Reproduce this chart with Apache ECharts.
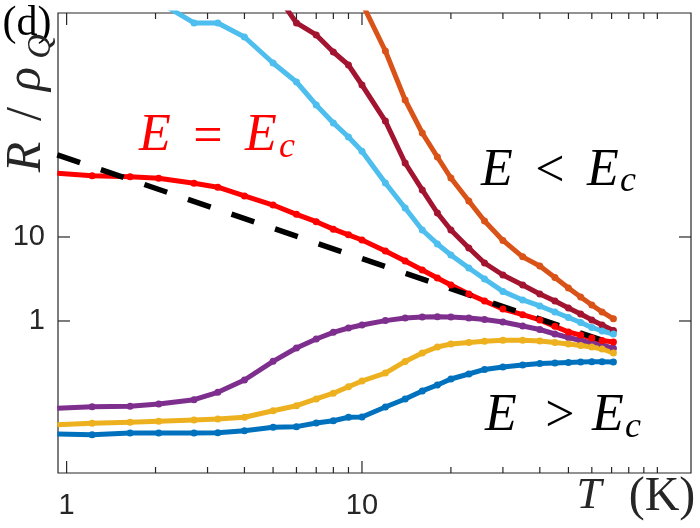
<!DOCTYPE html>
<html>
<head>
<meta charset="utf-8">
<script src="https://cdn.jsdelivr.net/npm/echarts@6.0.0/dist/echarts.min.js"></script>
<style>
  html, body { margin: 0; padding: 0; background: #fff; }
  #container { width: 700px; height: 528px; }
</style>
</head>
<body>
<div id="container"></div>
<script>
// temperature grid (K), shared by every curve
var temps = [0.93, 1.22, 1.64, 2.05, 2.7, 3.25, 4, 5, 6, 7, 8, 9, 10, 12, 14, 16, 18, 20, 23, 26, 30, 35, 40, 45, 50, 55, 60, 65, 71];

// R / rho_Q for each field, null where the curve is off the top of the chart
var orangeR = [null, null, null, null, null, null, null, null, null, null, null, null, 6100, 1637, 428, 173, 89.6, 50.4, 26.8, 15.5, 9.1, 5.8, 4.52, 3.3, 2.47, 1.93, 1.55, 1.28, 1.06];
var maroonR = [null, null, null, null, null, null, null, 8900, 3530, 2540, 1593, 1116, 645, 240, 76, 36.3, 19.3, 12.1, 7.39, 4.9, 3.53, 2.68, 2.10, 1.73, 1.43, 1.21, 1.03, 0.896, 0.771];
var skyR = [null, null, null, 6300, 3530, 3530, 2404, 1178, 700, 373, 228, 155, 105, 44.0, 22.1, 12.1, 8.26, 6.1, 4.27, 3.16, 2.25, 1.78, 1.51, 1.28, 1.10, 0.96, 0.837, 0.760, 0.70];
var redR = [57.3, 53.7, 52.2, 50.0, 43.6, 39.1, 30.8, 24.0, 18.6, 15.2, 12.4, 10.6, 9.21, 6.81, 5.18, 4.05, 3.25, 2.68, 2.10, 1.73, 1.39, 1.19, 1.03, 0.863, 0.740, 0.68, 0.628, 0.586, 0.562];
var purpleR = [0.0913, 0.0955, 0.0965, 0.1027, 0.1156, 0.1416, 0.1985, 0.331, 0.477, 0.610, 0.733, 0.825, 0.896, 1.01, 1.086, 1.116, 1.125, 1.116, 1.086, 1.042, 0.973, 0.87, 0.792, 0.70, 0.636, 0.586, 0.547, 0.518, 0.473];
var yellowR = [0.0583, 0.0606, 0.0622, 0.0640, 0.0663, 0.0681, 0.0714, 0.0855, 0.0981, 0.118, 0.138, 0.165, 0.193, 0.240, 0.33, 0.416, 0.490, 0.532, 0.555, 0.573, 0.589, 0.589, 0.578, 0.555, 0.532, 0.511, 0.490, 0.464, 0.416];
var blueR = [0.0452, 0.0443, 0.0464, 0.0464, 0.0464, 0.0468, 0.0494, 0.0543, 0.0552, 0.0610, 0.0650, 0.0714, 0.0720, 0.0947, 0.118, 0.147, 0.173, 0.204, 0.234, 0.265, 0.283, 0.299, 0.312, 0.316, 0.321, 0.325, 0.327, 0.327, 0.325];

// dashed power-law guide
var dashT = [0.93, 71];
var dashR = [95, 0.53];

// ticks and labels
var xMajor = [1, 10];
var xMinor = [2, 3, 4, 5, 6, 7, 8, 9, 20, 30, 40, 50, 60, 70, 80, 90, 100];
var yMajor = [1, 10];
var xLabels = [1, 10];
var yLabels = [1, 10];

var dom = document.getElementById('container');
var myChart = echarts.init(dom, null, {renderer: 'canvas'});

function pairs(xs, ys) {
    var out = [];
    for (var i = 0; i < xs.length; i++) {
        if (ys[i] != null) out.push([xs[i], ys[i]]);
    }
    return out;
}

function curve(name, ys, color) {
    return {
        name: name,
        type: 'line',
        data: pairs(temps, ys),
        symbol: 'circle',
        symbolSize: 7,
        showSymbol: true,
        showAllSymbol: true,
        clip: true,
        itemStyle: {color: color},
        lineStyle: {color: color, width: 5, join: 'round'},
        emphasis: {disabled: true}
    };
}

function onlyLabels(list) {
    return function (v) {
        for (var i = 0; i < list.length; i++) {
            if (Math.abs(v / list[i] - 1) < 1e-6) return String(list[i]);
        }
        return '';
    };
}

// ticks drawn inside the box on both opposite sides (MATLAB box style)
function ticks(values, axis, len) {
    return {
        type: 'custom',
        silent: true,
        z: 10,
        data: values.map(function (v) { return axis === 'x' ? [v, 1] : [1, v]; }),
        encode: {x: 0, y: 1},
        renderItem: function (params, api) {
            var cs = params.coordSys;
            var p = api.coord([api.value(0), api.value(1)]);
            var st = {stroke: '#262626', lineWidth: 1.2};
            if (axis === 'x') {
                return {type: 'group', children: [
                    {type: 'line', shape: {x1: p[0], y1: cs.y + cs.height, x2: p[0], y2: cs.y + cs.height - len}, style: st},
                    {type: 'line', shape: {x1: p[0], y1: cs.y, x2: p[0], y2: cs.y + len}, style: st}
                ]};
            }
            return {type: 'group', children: [
                {type: 'line', shape: {x1: cs.x, y1: p[1], x2: cs.x + len, y2: p[1]}, style: st},
                {type: 'line', shape: {x1: cs.x + cs.width, y1: p[1], x2: cs.x + cs.width - len, y2: p[1]}, style: st}
            ]};
        }
    };
}

function txt(x, y, s, size, fstyle, color, rot) {
    return {
        type: 'text', x: x, y: y, rotation: rot || 0, silent: true,
        style: {
            text: s,
            fontFamily: 'Liberation Serif',
            fontSize: size,
            fontStyle: fstyle,
            fontWeight: 'normal',
            fill: color,
            align: 'center',
            verticalAlign: 'middle'
        }
    };
}

var R90 = Math.PI / 2;

option = {
    animation: false,
    grid: {
        left: 58, right: 9, top: 13, bottom: 55,
        show: true, borderColor: '#262626', borderWidth: 1.2,
        outerBoundsMode: 'none'
    },
    xAxis: {
        type: 'log',
        min: 0.935,
        max: 130,
        axisLine: {show: false},
        axisTick: {show: false},
        splitLine: {show: false},
        axisLabel: {
            formatter: onlyLabels(xLabels),
            fontSize: 29,
            fontFamily: 'Liberation Sans',
            color: '#262626',
            margin: 18
        }
    },
    yAxis: {
        type: 'log',
        min: 0.0155,
        max: 4640,
        axisLine: {show: false},
        axisTick: {show: false},
        splitLine: {show: false},
        axisLabel: {
            formatter: onlyLabels(yLabels),
            fontSize: 29,
            fontFamily: 'Liberation Sans',
            color: '#262626',
            margin: 13
        }
    },
    graphic: [
        txt(27, 24, '(d)', 42, 'normal', '#000'),
        // y title  R / rho_Q
        txt(27, 157, 'R', 50, 'italic', '#262626', R90),
        txt(27, 114, '/', 50, 'normal', '#262626', R90),
        txt(27, 79, '\u03c1', 50, 'italic', '#262626', R90),
        txt(41, 46.5, 'Q', 34, 'italic', '#262626', R90),
        // x title  T (K)
        txt(589, 496, 'T', 45, 'italic', '#262626'),
        txt(662, 497, '(K)', 48, 'normal', '#262626'),
        // E = E_c
        txt(155, 136.5, 'E', 52, 'italic', '#ff0000'),
        txt(208, 138, '=', 52, 'normal', '#ff0000'),
        txt(261, 136.5, 'E', 52, 'italic', '#ff0000'),
        txt(287, 148, 'c', 36, 'italic', '#ff0000'),
        // E < E_c
        txt(497, 171, 'E', 52, 'italic', '#000'),
        txt(550, 172, '<', 52, 'normal', '#000'),
        txt(603, 171, 'E', 52, 'italic', '#000'),
        txt(628, 182, 'c', 36, 'italic', '#000'),
        // E > E_c
        txt(501, 416, 'E', 52, 'italic', '#000'),
        txt(560, 417, '>', 52, 'normal', '#000'),
        txt(608, 416, 'E', 52, 'italic', '#000'),
        txt(633, 428, 'c', 36, 'italic', '#000')
    ],
    series: [
        curve('orange', orangeR, '#D95319'),
        curve('maroon', maroonR, '#A2142F'),
        curve('sky', skyR, '#4DBEEE'),
        curve('purple', purpleR, '#7E2F8E'),
        curve('yellow', yellowR, '#EDB120'),
        curve('blue', blueR, '#0072BD'),
        curve('Ec', redR, '#FF0000'),
        {
            name: 'guide',
            type: 'line',
            data: pairs(dashT, dashR),
            showSymbol: false,
            clip: true,
            lineStyle: {color: '#000', width: 5.5, type: [24, 22], cap: 'butt'},
            emphasis: {disabled: true}
        },
        ticks(xMajor, 'x', 12),
        ticks(xMinor, 'x', 6),
        ticks(yMajor, 'y', 12)
    ]
};

if (option && typeof option === 'object') {
    myChart.setOption(option, true);
}
</script>
</body>
</html>
